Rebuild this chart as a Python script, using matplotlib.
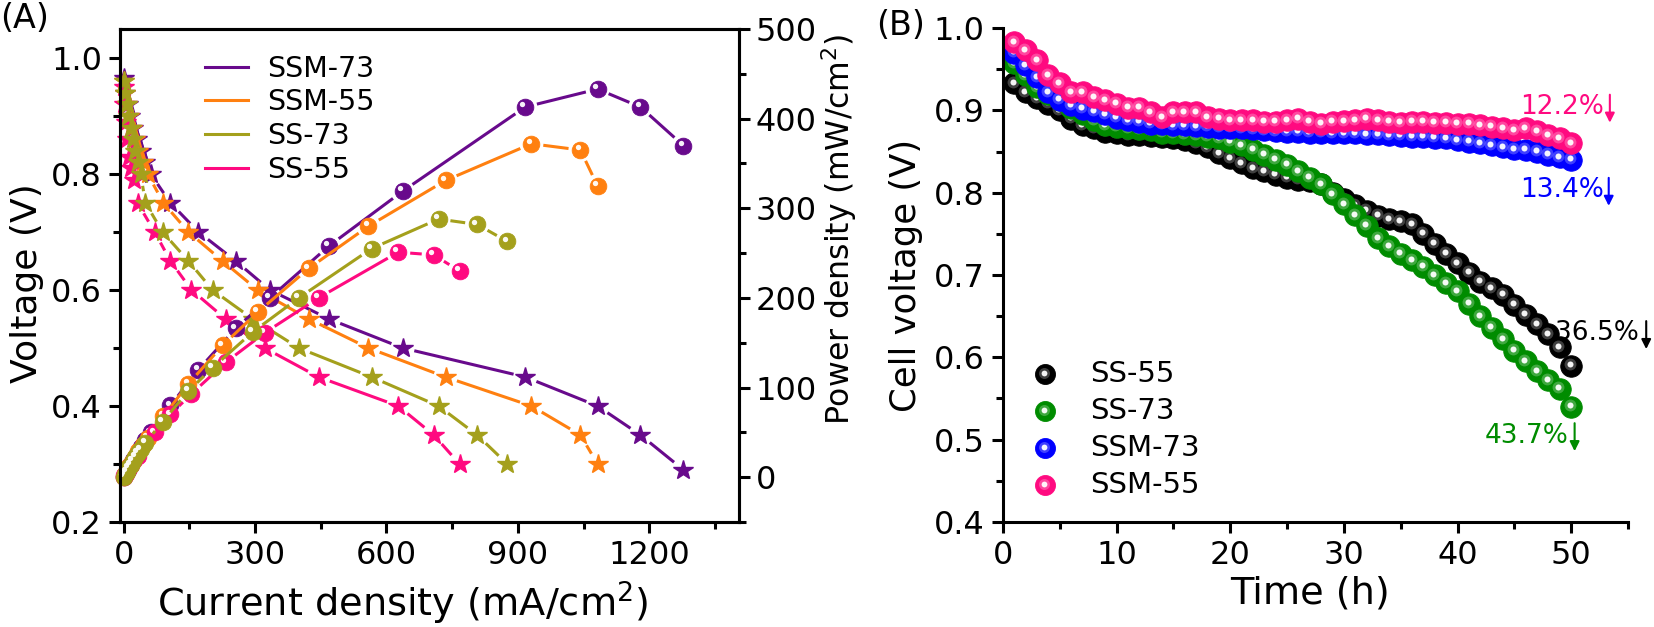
import numpy as np
import matplotlib
matplotlib.use("Agg")
import matplotlib.pyplot as plt
from matplotlib.lines import Line2D
from matplotlib.collections import LineCollection
from matplotlib.ticker import MultipleLocator
from matplotlib.transforms import offset_copy

plt.rcParams['font.family'] = ['DejaVu Sans']
plt.rcParams['mathtext.default'] = 'regular'

# ---- panel A: polarization (V) and power density curves ----
names_a = ['SSM-73', 'SSM-55', 'SS-73', 'SS-55']
colors_a = {'SSM-73': '#680A8C', 'SSM-55': '#FF8010', 'SS-73': '#A4A01C', 'SS-55': '#FF0A80'}

cur_ssm73 = [0, 4, 9, 15, 22, 30, 40, 50, 62, 107, 171, 256, 334, 469, 637, 917, 1082, 1180, 1278]
volt_ssm73 = [0.966, 0.94, 0.92, 0.90, 0.88, 0.86, 0.84, 0.82, 0.80, 0.75, 0.70, 0.65, 0.60, 0.55, 0.50, 0.45, 0.40, 0.35, 0.29]
pow_ssm73 = [0, 4, 8, 14, 19, 26, 34, 41, 50, 80, 120, 166, 200, 258, 319, 413, 433, 413, 370]

cur_ssm55 = [0, 4, 8, 13, 19, 26, 34, 44, 55, 91, 148, 226, 306, 423, 559, 735, 931, 1043, 1082]
volt_ssm55 = [0.96, 0.94, 0.92, 0.90, 0.88, 0.86, 0.84, 0.82, 0.80, 0.75, 0.70, 0.65, 0.60, 0.55, 0.50, 0.45, 0.40, 0.35, 0.30]
pow_ssm55 = [0, 4, 7, 12, 17, 22, 29, 36, 44, 68, 104, 147, 184, 233, 280, 331, 372, 365, 325]

cur_ss73 = [0, 3, 7, 11, 16, 21, 27, 33, 39, 50, 89, 148, 203, 295, 400, 566, 719, 807, 876]
volt_ss73 = [0.96, 0.94, 0.92, 0.90, 0.88, 0.86, 0.84, 0.82, 0.80, 0.75, 0.70, 0.65, 0.60, 0.55, 0.50, 0.45, 0.40, 0.35, 0.30]
pow_ss73 = [0, 3, 6, 10, 14, 18, 23, 27, 31, 38, 62, 96, 122, 162, 200, 255, 288, 282, 263]

cur_ss55 = [0, 2, 5, 8, 12, 17, 24, 32, 71, 107, 155, 233, 322, 445, 627, 708, 767]
volt_ss55 = [0.95, 0.92, 0.89, 0.86, 0.83, 0.81, 0.79, 0.75, 0.70, 0.65, 0.60, 0.55, 0.50, 0.45, 0.40, 0.35, 0.30]
pow_ss55 = [0, 2, 4, 7, 10, 14, 19, 24, 50, 70, 93, 128, 161, 200, 251, 248, 230]

# ---- panel B: cell voltage over time ----
time_h = list(range(1, 51))
v_ss55 = [0.933, 0.922, 0.915, 0.908, 0.900, 0.890, 0.882, 0.878, 0.874, 0.872,
          0.870, 0.870, 0.869, 0.868, 0.867, 0.864, 0.860, 0.855, 0.848, 0.842,
          0.836, 0.830, 0.826, 0.822, 0.818, 0.816, 0.814, 0.810, 0.800, 0.792,
          0.785, 0.778, 0.772, 0.768, 0.765, 0.762, 0.750, 0.738, 0.726, 0.714,
          0.703, 0.692, 0.684, 0.676, 0.664, 0.652, 0.640, 0.628, 0.612, 0.590]
v_ss73 = [0.957, 0.943, 0.928, 0.920, 0.912, 0.903, 0.895, 0.888, 0.882, 0.880,
          0.878, 0.877, 0.876, 0.873, 0.872, 0.871, 0.870, 0.868, 0.866, 0.862,
          0.858, 0.852, 0.846, 0.840, 0.834, 0.826, 0.818, 0.810, 0.798, 0.786,
          0.773, 0.760, 0.745, 0.735, 0.726, 0.718, 0.710, 0.700, 0.690, 0.680,
          0.665, 0.650, 0.636, 0.622, 0.608, 0.595, 0.583, 0.572, 0.562, 0.540]
v_ssm73 = [0.970, 0.955, 0.940, 0.922, 0.913, 0.906, 0.902, 0.899, 0.895, 0.891,
           0.888, 0.886, 0.884, 0.883, 0.882, 0.882, 0.881, 0.880, 0.879, 0.879,
           0.878, 0.877, 0.876, 0.875, 0.874, 0.874, 0.873, 0.873, 0.872, 0.872,
           0.872, 0.871, 0.871, 0.870, 0.869, 0.868, 0.868, 0.867, 0.866, 0.864,
           0.862, 0.860, 0.858, 0.855, 0.853, 0.852, 0.850, 0.846, 0.843, 0.840]
v_ssm55 = [0.983, 0.973, 0.961, 0.943, 0.933, 0.922, 0.922, 0.916, 0.912, 0.908,
           0.903, 0.903, 0.898, 0.892, 0.898, 0.898, 0.898, 0.892, 0.890, 0.888,
           0.888, 0.888, 0.886, 0.886, 0.888, 0.890, 0.886, 0.884, 0.886, 0.887,
           0.888, 0.890, 0.888, 0.886, 0.885, 0.886, 0.886, 0.885, 0.885, 0.884,
           0.884, 0.882, 0.880, 0.878, 0.876, 0.878, 0.875, 0.870, 0.866, 0.860]
names_b = ['SS-55', 'SS-73', 'SSM-73', 'SSM-55']
colors_b = {'SS-55': '#000000', 'SS-73': '#008C00', 'SSM-73': '#0000FF', 'SSM-55': '#FF0A80'}
drops_b = ['36.5%', '43.7%', '13.4%', '12.2%']

fig = plt.figure(figsize=(16.54, 6.27), dpi=100)
axA = fig.add_axes([0.0726, 0.1675, 0.3742, 0.7862])
axP = axA.twinx()
axB = fig.add_axes([0.6064, 0.1675, 0.3779, 0.7878])

LW = 2.2
TICK = 23
LABEL = 27.5

# axes set-up first so that transforms are final before drawing gapped lines
axA.set_xlim(-8, 1405)
axA.set_ylim(0.2, 1.05)
axP.set_ylim(-50, 500)
axA.xaxis.set_major_locator(MultipleLocator(300))
axA.xaxis.set_minor_locator(MultipleLocator(150))
axA.yaxis.set_major_locator(MultipleLocator(0.2))
axA.yaxis.set_minor_locator(MultipleLocator(0.1))
axP.yaxis.set_major_locator(MultipleLocator(100))
axP.yaxis.set_minor_locator(MultipleLocator(50))
axA.yaxis.set_major_formatter(plt.FormatStrFormatter('%.1f'))

for ax in (axA, axP):
    for s in ax.spines.values():
        s.set_linewidth(LW)
axA.tick_params(which='both', direction='out', width=LW, labelsize=TICK, top=False, right=False)
axA.tick_params(which='major', length=8, pad=5)
axA.tick_params(which='minor', length=5)
axP.tick_params(which='both', direction='out', width=LW, labelsize=TICK)
axP.tick_params(which='major', length=8, pad=4)
axP.tick_params(which='minor', length=5)


def gapped_line(ax, x, y, color, gap=12):
    # Origin style: the line stops short of each marker
    pts = ax.transData.transform(np.column_stack([x, y]))
    inv = ax.transData.inverted()
    segs = []
    for p0, p1 in zip(pts[:-1], pts[1:]):
        d = p1 - p0
        L = np.hypot(*d)
        if L <= 2 * gap:
            continue
        u = d / L
        segs.append(inv.transform(np.array([p0 + u * gap, p1 - u * gap])))
    ax.add_collection(LineCollection(segs, colors=color, linewidths=LW))


def spheres(ax, x, y, color, ms, hl=0.3, dx=-1.5, dy=1.5, soft=True, base=None):
    base = ax.transData if base is None else base
    ax.plot(x, y, 'o', ms=ms, color=color, mec=color, mew=0.6, clip_on=False, transform=base)
    tr = offset_copy(base, fig=fig, x=dx, y=dy, units='points')
    if soft:
        ax.plot(x, y, 'o', ms=ms * 0.55, color='white', alpha=0.25, mec='none', transform=tr, clip_on=False)
    ax.plot(x, y, 'o', ms=ms * hl, color='white', alpha=0.95, mec='none', transform=tr, clip_on=False)


series_a = {
    'SSM-73': (cur_ssm73, volt_ssm73, pow_ssm73),
    'SSM-55': (cur_ssm55, volt_ssm55, pow_ssm55),
    'SS-55': (cur_ss55, volt_ss55, pow_ss55),
    'SS-73': (cur_ss73, volt_ss73, pow_ss73),
}
for name, (cur, volt, pw) in series_a.items():
    c = colors_a[name]
    gapped_line(axA, cur, volt, c)
    axA.plot(cur, volt, '*', ms=15, color=c, mec=c, clip_on=False)
    gapped_line(axP, cur, pw, c)
    spheres(axP, cur, pw, c, 12, hl=0.32, dx=-2, dy=2, soft=False)

axA.set_xlabel('Current density (mA/cm$^2$)', fontsize=LABEL)
axA.set_ylabel('Voltage (V)', fontsize=26)
axP.set_ylabel('Power density (mW/cm$^2$)', fontsize=22.7)
axA.xaxis.set_label_coords(0.456, -0.118)
axA.yaxis.set_label_coords(-0.123, 0.485)
axP.yaxis.set_label_coords(1.13, 0.594)

handles_a = [Line2D([], [], color=colors_a[n], lw=LW) for n in names_a]
axA.legend(handles_a, names_a, loc='upper left', bbox_to_anchor=(0.137, 0.948),
           frameon=False, fontsize=20.5, handlelength=1.5, handletextpad=0.7,
           labelspacing=0.2, borderpad=0, borderaxespad=0)

# ---- panel B ----
axB.set_xlim(0, 55)
axB.set_ylim(0.4, 1.0)
axB.xaxis.set_major_locator(MultipleLocator(10))
axB.xaxis.set_minor_locator(MultipleLocator(5))
axB.yaxis.set_major_locator(MultipleLocator(0.1))
axB.yaxis.set_minor_locator(MultipleLocator(0.05))
axB.spines['top'].set_visible(False)
axB.spines['right'].set_visible(False)
for s in ('left', 'bottom'):
    axB.spines[s].set_linewidth(LW)
axB.tick_params(which='both', direction='out', width=LW, labelsize=TICK)
axB.tick_params(which='major', length=8, pad=5)
axB.tick_params(which='minor', length=5)

series_b = {'SS-55': v_ss55, 'SS-73': v_ss73, 'SSM-73': v_ssm73, 'SSM-55': v_ssm55}
for name, v in series_b.items():
    spheres(axB, time_h, v, colors_b[name], 15.5, hl=0.28, dx=-1, dy=1)

axB.set_xlabel('Time (h)', fontsize=LABEL)
axB.set_ylabel('Cell voltage (V)', fontsize=25.5)
axB.xaxis.set_label_coords(0.491, -0.109)
axB.yaxis.set_label_coords(-0.128, 0.5)

# legend of panel B, laid out row by row in axes fraction
for i, n in enumerate(names_b):
    ry = 0.2996 - 0.0749 * i
    spheres(axB, [0.0672], [ry], colors_b[n], 14.4, hl=0.29, dx=-1, dy=1, base=axB.transAxes)
    axB.text(0.1392, ry, n, transform=axB.transAxes, fontsize=21, ha='left', va='center')

# degradation labels with down arrows
ann_pos = {'SSM-55': (45.5, 0.904, 53.4), 'SSM-73': (45.5, 0.803, 53.3),
           'SS-55': (48.6, 0.629, 56.6), 'SS-73': (42.4, 0.505, 50.3)}
for name, drop in zip(names_b, drops_b):
    tx, ty, ax_x = ann_pos[name]
    c = colors_b[name]
    axB.text(tx, ty, drop, color=c, fontsize=19, ha='left', va='center', clip_on=False)
    axB.annotate('', xy=(ax_x, ty - 0.019), xytext=(ax_x, ty + 0.015),
                 arrowprops=dict(arrowstyle='-|>', color=c, lw=1.5, mutation_scale=14,
                                 shrinkA=0, shrinkB=0), annotation_clip=False)

fig.text(0.0, 0.997, '(A)', fontsize=24, ha='left', va='top')
fig.text(0.530, 0.985, '(B)', fontsize=24, ha='left', va='top')

fig.savefig('out.png', dpi=100)
